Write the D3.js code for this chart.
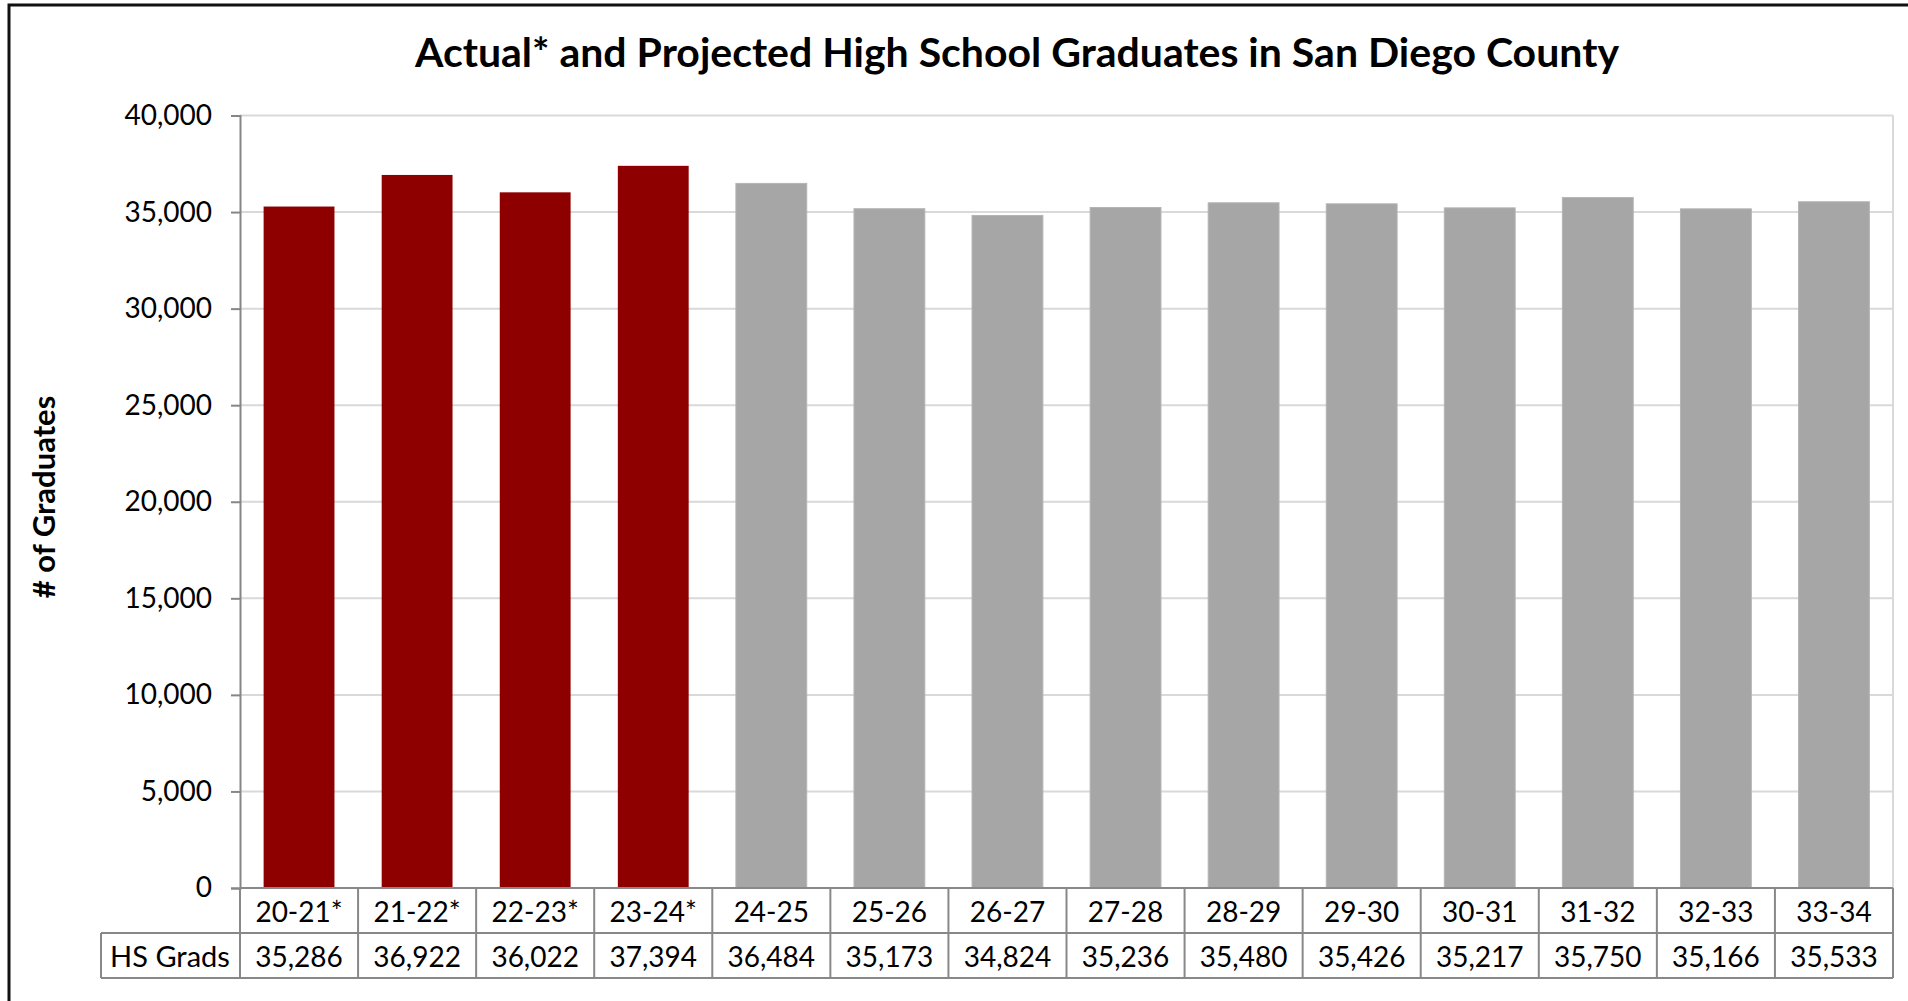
<!DOCTYPE html>
<html>
<head>
<meta charset="utf-8">
<script src="https://cdn.jsdelivr.net/npm/d3@7"></script>
<style>
  body { margin: 0; background: #fff; }
  svg { display: block; font-family: Lato, "Open Sans", sans-serif; }
</style>
</head>
<body>
<div id="chart"></div>
<script>
// data
var categories = ["20-21*", "21-22*", "22-23*", "23-24*", "24-25", "25-26", "26-27",
                  "27-28", "28-29", "29-30", "30-31", "31-32", "32-33", "33-34"];
var grads = [35286, 36922, 36022, 37394, 36484, 35173, 34824,
             35236, 35480, 35426, 35217, 35750, 35166, 35533];
var actual = [true, true, true, true, false, false, false,
              false, false, false, false, false, false, false];
var yTicks = [0, 5000, 10000, 15000, 20000, 25000, 30000, 35000, 40000];

var chart_width = 1908;
var chart_height = 1001;

var margin = { top: 115.5, bottom: 888, left: 240, right: 1893 };
var rowH = 45;

var svg = d3.select("#chart")
    .append("svg")
    .attr("width", chart_width)
    .attr("height", chart_height);

// outer frame (runs off right/bottom like the source)
svg.append("rect")
    .attr("x", 9).attr("y", 5)
    .attr("width", chart_width + 20)
    .attr("height", chart_height + 20)
    .attr("fill", "white")
    .attr("stroke", "#111")
    .attr("stroke-width", 3);

// scales
var escalaX = d3.scaleBand()
    .domain(categories)
    .range([margin.left, margin.right])
    .paddingInner(0.4)
    .paddingOuter(0.2);

var celdaX = d3.scaleBand()
    .domain(categories)
    .range([margin.left, margin.right]);

var escalaY = d3.scaleLinear()
    .domain([0, 40000])
    .range([margin.bottom, margin.top]);

// gridlines
svg.append("g")
    .selectAll("line")
    .data(yTicks.filter(d => d > 0))
    .join("line")
    .attr("x1", margin.left).attr("x2", margin.right)
    .attr("y1", d => escalaY(d)).attr("y2", d => escalaY(d))
    .attr("stroke", "#d9d9d9")
    .attr("stroke-width", 2);

// right border of plot area
svg.append("line")
    .attr("x1", margin.right).attr("x2", margin.right)
    .attr("y1", margin.top).attr("y2", margin.bottom)
    .attr("stroke", "#d9d9d9")
    .attr("stroke-width", 2);

// bars
svg.append("g")
    .selectAll("rect")
    .data(grads)
    .join("rect")
    .attr("x", (d, i) => escalaX(categories[i]))
    .attr("y", d => escalaY(d))
    .attr("width", escalaX.bandwidth())
    .attr("height", d => escalaY(0) - escalaY(d))
    .attr("fill", (d, i) => actual[i] ? "#8e0000" : "#a6a6a6")
    .attr("stroke", (d, i) => actual[i] ? "none" : "#b4b4b4")
    .attr("stroke-width", 1);

// y axis
var ejeY = d3.axisLeft(escalaY)
    .tickValues(yTicks)
    .tickFormat(d3.format(","))
    .tickSize(9)
    .tickPadding(19);

var gY = svg.append("g")
    .attr("transform", "translate(" + margin.left + ",0)")
    .call(ejeY);
gY.select(".domain").attr("stroke", "#868686").attr("stroke-width", 2);
gY.selectAll(".tick line").attr("stroke", "#868686").attr("stroke-width", 2);
gY.selectAll(".tick text")
    .attr("fill", "#000")
    .style("font-size", "28px")
    .style("font-family", "Lato, sans-serif");

// y axis title
svg.append("text")
    .attr("transform", "translate(47,497) rotate(-90)")
    .attr("text-anchor", "middle")
    .attr("dominant-baseline", "middle")
    .style("font-size", "31px")
    .style("font-weight", "bold")
    .text("# of Graduates");

// title
svg.append("text")
    .attr("x", 1017)
    .attr("y", 67)
    .attr("text-anchor", "middle")
    .style("font-size", "41px")
    .style("font-weight", "bold")
    .text("Actual* and Projected High School Graduates in San Diego County");

// data table
var tabla = svg.append("g");
var lineColor = "#888";
var row1 = margin.bottom, row2 = margin.bottom + rowH, row3 = margin.bottom + 2 * rowH;

// horizontal lines
tabla.append("line").attr("x1", margin.left).attr("x2", margin.right)
    .attr("y1", row1).attr("y2", row1);
tabla.append("line").attr("x1", 101).attr("x2", margin.right)
    .attr("y1", row2).attr("y2", row2);
tabla.append("line").attr("x1", 101).attr("x2", margin.right)
    .attr("y1", row3).attr("y2", row3);
tabla.append("line").attr("x1", 101).attr("x2", 101)
    .attr("y1", row2).attr("y2", row3);

// vertical lines
tabla.selectAll("line.v")
    .data(categories.concat(["end"]))
    .join("line")
    .attr("class", "v")
    .attr("x1", (d, i) => i < categories.length ? celdaX(d) : margin.right)
    .attr("x2", (d, i) => i < categories.length ? celdaX(d) : margin.right)
    .attr("y1", row1).attr("y2", row3);

tabla.selectAll("line")
    .attr("stroke", lineColor)
    .attr("stroke-width", 2);

tabla.selectAll("text.cat")
    .data(categories)
    .join("text")
    .attr("class", "cat")
    .attr("x", d => celdaX(d) + celdaX.bandwidth() / 2)
    .attr("y", row1 + rowH / 2)
    .attr("text-anchor", "middle")
    .attr("dominant-baseline", "central")
    .style("font-size", "28px")
    .text(d => d);

tabla.selectAll("text.val")
    .data(grads)
    .join("text")
    .attr("class", "val")
    .attr("x", (d, i) => celdaX(categories[i]) + celdaX.bandwidth() / 2)
    .attr("y", row2 + rowH / 2)
    .attr("text-anchor", "middle")
    .attr("dominant-baseline", "central")
    .style("font-size", "28px")
    .text(d => d3.format(",")(d));

tabla.append("text")
    .attr("x", 170)
    .attr("y", row2 + rowH / 2)
    .attr("text-anchor", "middle")
    .attr("dominant-baseline", "central")
    .style("font-size", "29px")
    .text("HS Grads");
</script>
</body>
</html>
